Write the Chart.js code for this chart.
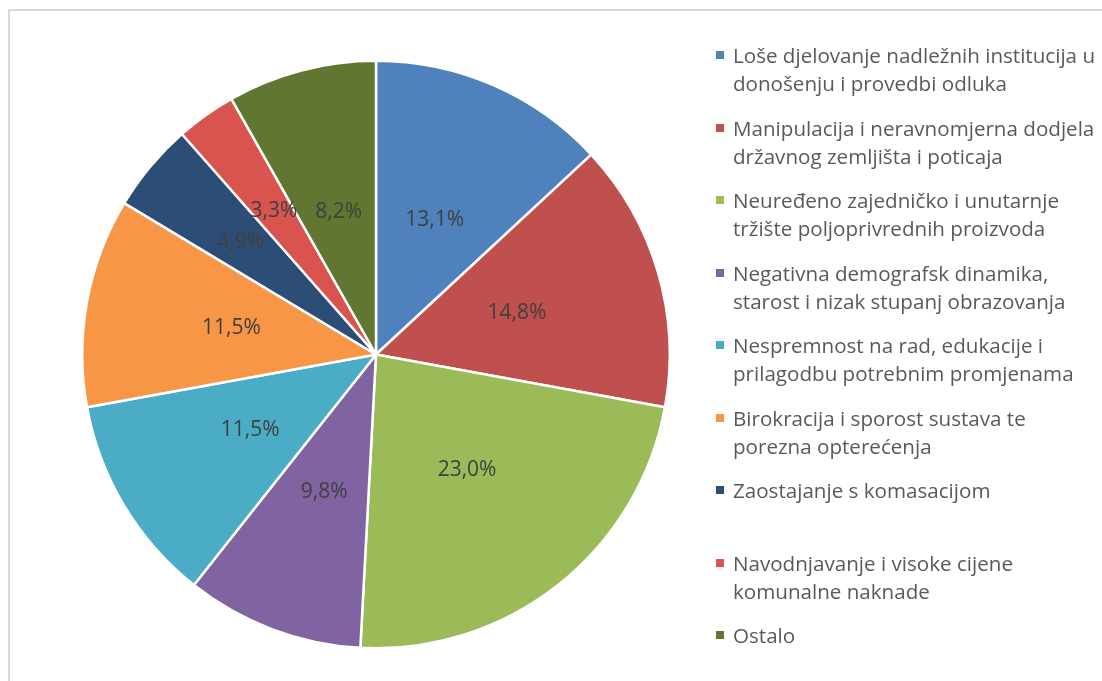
<!DOCTYPE html>
<html>
<head>
<meta charset="utf-8">
<script src="https://cdn.jsdelivr.net/npm/chart.js@4/dist/chart.umd.min.js"></script>
<style>
    html, body { margin: 0; padding: 0; background: #fff; overflow: hidden; }
    #wrap { position: relative; width: 1102px; height: 681px; }
    #frame { position: absolute; left: 8px; top: 9px; width: 1200px; height: 800px; border: 2px solid #d9d9d9; }
    #pie { position: absolute; left: 0; top: 0; }
    #legend { position: absolute; left: 716px; top: 41px; font-family: "Open Sans", "Liberation Sans", sans-serif; font-size: 20.6px; color: #595959; }
    .item { position: relative; height: 72.5px; padding-left: 17px; line-height: 28px; white-space: nowrap; }
    .box { position: absolute; left: 0; top: 10px; width: 8px; height: 8px; }
</style>
</head>
<body>
<div id="wrap">
    <div id="frame"></div>
    <canvas id="pie" width="1102" height="681"></canvas>
    <div id="legend"></div>
</div>
<script>
// Chart data.
const labels = [
    ['Loše djelovanje nadležnih institucija u', 'donošenju i provedbi odluka'],
    ['Manipulacija i neravnomjerna dodjela', 'državnog zemljišta i poticaja'],
    ['Neuređeno zajedničko i unutarnje', 'tržište poljoprivrednih proizvoda'],
    ['Negativna demografsk dinamika,', 'starost i nizak stupanj obrazovanja'],
    ['Nespremnost na rad, edukacije i', 'prilagodbu potrebnim promjenama'],
    ['Birokracija i sporost sustava te', 'porezna opterećenja'],
    ['Zaostajanje s komasacijom'],
    ['Navodnjavanje i visoke cijene', 'komunalne naknade'],
    ['Ostalo']
];
const shares = [13.1, 14.8, 23.0, 9.8, 11.5, 11.5, 4.9, 3.3, 8.2];
const colors = ['#4f81bd', '#c0504d', '#9bbb59', '#8064a2', '#4bacc6', '#f79646', '#2c4d75', '#d9534f', '#617731'];

// Plugin that writes the percentage inside each slice.
const sliceLabels = {
    id: 'sliceLabels',
    afterDatasetsDraw(chart) {
        const ctx = chart.ctx;
        const meta = chart.getDatasetMeta(0);
        ctx.save();
        ctx.font = '21px "Open Sans", "Liberation Sans", sans-serif';
        ctx.fillStyle = '#404040';
        ctx.textAlign = 'center';
        ctx.textBaseline = 'middle';
        meta.data.forEach((arc, i) => {
            const p = arc.getProps(['x', 'y', 'startAngle', 'endAngle', 'outerRadius'], true);
            const mid = (p.startAngle + p.endAngle) / 2;
            const r = p.outerRadius * (shares[i] < 6 ? 0.6 : 0.5);
            const text = shares[i].toFixed(1).replace('.', ',') + '%';
            ctx.fillText(text, p.x + Math.cos(mid) * r, p.y + Math.sin(mid) * r);
        });
        ctx.restore();
    }
};

new Chart(document.querySelector('#pie'), {
    type: 'pie',
    data: {
        labels: labels.map(l => l.join(' ')),
        datasets: [{
            data: shares,
            backgroundColor: colors,
            borderColor: '#ffffff',
            borderWidth: 2.5
        }]
    },
    options: {
        responsive: false,
        animation: false,
        layout: { padding: { left: 81, top: 59, right: 431, bottom: 31 } },
        plugins: {
            legend: { display: false },
            tooltip: { enabled: false }
        }
    },
    plugins: [sliceLabels]
});

// Legend built from the same arrays.
let container = ``;
labels.forEach((lines, i) => {
    container += `<div class="item"><span class="box" style="background:${colors[i]}"></span>${lines.join('<br>')}</div>`;
});
document.querySelector('#legend').innerHTML = container;
</script>
</body>
</html>
